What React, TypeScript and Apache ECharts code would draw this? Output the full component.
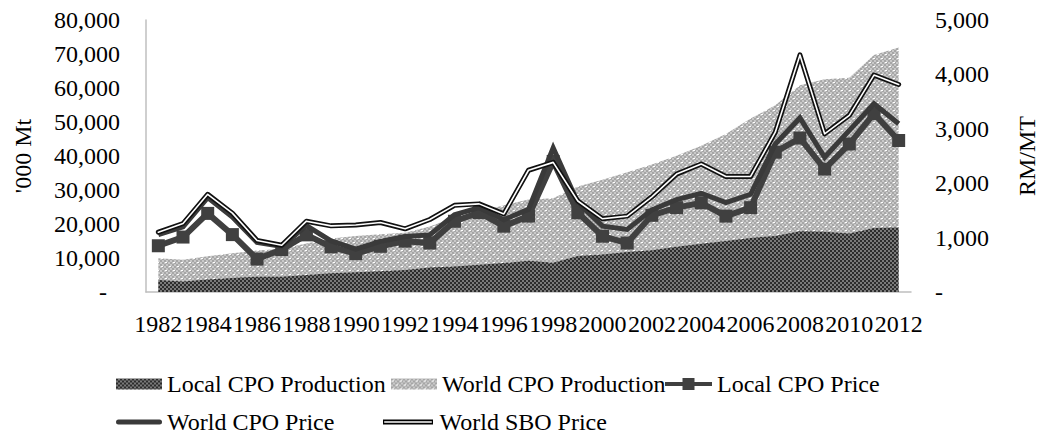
import React, { useEffect, useRef } from "react";
import * as echarts from "echarts";

const years = [
  "1982", "1983", "1984", "1985", "1986", "1987", "1988", "1989", "1990", "1991",
  "1992", "1993", "1994", "1995", "1996", "1997", "1998", "1999", "2000", "2001",
  "2002", "2003", "2004", "2005", "2006", "2007", "2008", "2009", "2010", "2011", "2012",
];

const localProduction = [
  3500, 3100, 3700, 4100, 4500, 4500, 5000, 5500, 5800, 6100,
  6500, 7200, 7500, 8000, 8500, 9200, 8600, 10600, 11000, 11800,
  12300, 13300, 14200, 15000, 15900, 16500, 17900, 17700, 17200, 18800, 19000,
];

const worldProduction = [
  9900, 9500, 10500, 11400, 12200, 12700, 14300, 15700, 16500, 17000,
  17400, 19300, 22000, 23500, 25500, 27200, 27600, 31000, 33000, 35200,
  37500, 40100, 43000, 46500, 51000, 54900, 60800, 62600, 63000, 69700, 71900,
];

const localCpoPrice = [
  850, 1010, 1445, 1055, 605, 780, 1050, 830, 705, 840,
  935, 900, 1300, 1460, 1210, 1395, 2400, 1457, 1025, 900,
  1410, 1550, 1640, 1395, 1550, 2570, 2830, 2260, 2720, 3280, 2785,
];

const worldCpoPrice = [
  1055, 1200, 1735, 1380, 910, 840, 1220, 940, 790, 930,
  1020, 1050, 1420, 1550, 1330, 1518, 2650, 1642, 1210, 1150,
  1510, 1700, 1815, 1642, 1796, 2720, 3200, 2476, 2970, 3460, 3093,
];

const worldSboPrice = [
  1100, 1259, 1796, 1450, 947, 860, 1302, 1216, 1232, 1278,
  1161, 1333, 1593, 1620, 1435, 2238, 2383, 1673, 1346, 1395,
  1750, 2167, 2352, 2124, 2124, 2938, 4358, 2907, 3247, 3988, 3815,
];

const FONT = "Liberation Serif";

function makeLocalPattern() {
  const c = document.createElement("canvas");
  c.width = 4;
  c.height = 4;
  const g = c.getContext("2d")!;
  g.fillStyle = "#7a7a7a";
  g.fillRect(0, 0, 4, 4);
  g.fillStyle = "#2c2c2c";
  g.fillRect(0, 0, 2, 2);
  g.fillRect(2, 2, 2, 2);
  return { image: c.toDataURL(), imageWidth: 4, imageHeight: 4, repeat: "repeat" };
}

function makeWorldPattern() {
  const c = document.createElement("canvas");
  c.width = 8;
  c.height = 8;
  const g = c.getContext("2d")!;
  g.fillStyle = "#c8c8c8";
  g.fillRect(0, 0, 8, 8);
  g.fillStyle = "#a6a6a6";
  for (let y = 0; y < 8; y += 2) {
    for (let x = 0; x < 8; x += 2) {
      if (((x + y) / 2) % 2 === 0) g.fillRect(x, y, 2, 2);
    }
  }
  g.fillStyle = "#ffffff";
  g.fillRect(1, 2, 2, 1);
  g.fillRect(5, 6, 2, 1);
  return { image: c.toDataURL(), imageWidth: 8, imageHeight: 8, repeat: "repeat" };
}

export default function App() {
  const ref = useRef<HTMLDivElement>(null);

  useEffect(() => {
    if (!ref.current) return;
    const chart = echarts.init(ref.current, undefined, { renderer: "svg" });
    const localPat: any = makeLocalPattern();
    const worldPat: any = makeWorldPattern();

    const text = { fontFamily: FONT, fontSize: 24, color: "#000" };
    const legendBase: any = {
      orient: "horizontal",
      itemGap: 0,
      padding: 0,
      itemWidth: 46,
      itemHeight: 11,
      selectedMode: false,
      textStyle: { ...text },
    };

    const option: any = {
      animation: false,
      textStyle: { fontFamily: FONT },
      grid: { left: 146, right: 128, top: 20, bottom: 142, outerBoundsMode: "none" },
      xAxis: {
        type: "category",
        data: years,
        boundaryGap: true,
        axisLine: { show: true, lineStyle: { color: "#bfbfbf", width: 1.5 } },
        axisTick: { show: false },
        splitLine: { show: false },
        axisLabel: { interval: 1, margin: 20, ...text },
      },
      yAxis: [
        {
          type: "value",
          position: "left",
          min: 0,
          max: 80000,
          interval: 10000,
          name: "'000 Mt",
          nameLocation: "middle",
          nameRotate: 90,
          nameGap: 111,
          nameTextStyle: { ...text },
          axisLine: { show: true, lineStyle: { color: "#bfbfbf", width: 1.5 } },
          axisTick: { show: false },
          splitLine: { show: false },
          axisLabel: {
            margin: 26,
            ...text,
            formatter: (v: number) => (v === 0 ? "{d|-}" : v.toLocaleString("en-US")),
            rich: { d: { ...text, padding: [0, 13, 0, 0] } },
          },
        },
        {
          type: "value",
          position: "right",
          min: 0,
          max: 5000,
          interval: 1000,
          name: "RM/MT",
          nameLocation: "middle",
          nameRotate: 90,
          nameGap: 104,
          nameTextStyle: { ...text },
          axisLine: { show: false },
          axisTick: { show: false },
          splitLine: { show: false },
          axisLabel: {
            margin: 24,
            ...text,
            formatter: (v: number) => (v === 0 ? "-" : v.toLocaleString("en-US")),
          },
        },
      ],
      legend: [
        {
          ...legendBase,
          left: 116,
          top: 372,
          data: [{ name: "Local CPO Production", icon: "rect", itemStyle: { color: localPat } }],
        },
        {
          ...legendBase,
          left: 391,
          top: 372,
          data: [{ name: "World CPO Production", icon: "rect", itemStyle: { color: worldPat } }],
        },
        {
          ...legendBase,
          left: 665,
          top: 372,
          itemWidth: 47,
          itemHeight: 12,
          data: [
            {
              name: "Local CPO Price",
              icon: "path://M0,4H47V8H0Z M17.5,0H29.5V12H17.5Z",
              itemStyle: { color: "#404040" },
            },
          ],
        },
        {
          ...legendBase,
          left: 116,
          top: 410,
          itemWidth: 46,
          itemHeight: 5,
          data: [
            {
              name: "World CPO Price",
              icon: "path://M2.5,0H43.5A2.5,2.5,0,0,1,43.5,5H2.5A2.5,2.5,0,0,1,2.5,0Z",
              itemStyle: { color: "#3a3a3a" },
            },
          ],
        },
        {
          ...legendBase,
          left: 383,
          top: 410,
          itemWidth: 53,
          itemHeight: 5,
          data: [
            {
              name: "World SBO Price",
              icon: "path://M0,0H50V5H0Z M1.2,1.7V3.3H48.8V1.7Z",
              itemStyle: { color: "#000" },
            },
          ],
        },
      ],
      series: [
        {
          name: "World CPO Production",
          type: "line",
          yAxisIndex: 0,
          data: worldProduction,
          symbol: "none",
          lineStyle: { width: 0 },
          itemStyle: { color: worldPat },
          areaStyle: { color: worldPat, opacity: 1 },
          z: 1,
        },
        {
          name: "Local CPO Production",
          type: "line",
          yAxisIndex: 0,
          data: localProduction,
          symbol: "none",
          lineStyle: { width: 0 },
          itemStyle: { color: localPat },
          areaStyle: { color: localPat, opacity: 1 },
          z: 2,
        },
        {
          name: "Local CPO Price",
          type: "line",
          yAxisIndex: 1,
          data: localCpoPrice,
          symbol: "rect",
          symbolSize: 13,
          showAllSymbol: true,
          itemStyle: { color: "#404040" },
          lineStyle: { color: "#404040", width: 6, join: "miter" },
          z: 3,
        },
        {
          name: "World CPO Price",
          type: "line",
          yAxisIndex: 1,
          data: worldCpoPrice,
          symbol: "none",
          itemStyle: { color: "#3a3a3a" },
          lineStyle: { color: "#3a3a3a", width: 5, join: "miter" },
          z: 4,
        },
        {
          name: "World SBO Price",
          type: "line",
          yAxisIndex: 1,
          data: worldSboPrice,
          symbol: "none",
          itemStyle: { color: "#000" },
          lineStyle: { color: "#111", width: 5, cap: "round", join: "round" },
          z: 5,
        },
        {
          name: "SBO inner",
          type: "line",
          yAxisIndex: 1,
          data: worldSboPrice,
          symbol: "none",
          itemStyle: { color: "#fff" },
          lineStyle: { color: "#ffffff", width: 1.6, cap: "round", join: "round" },
          z: 6,
        },
      ],
    };

    chart.setOption(option);
    return () => chart.dispose();
  }, []);

  return <div ref={ref} style={{ width: 1039, height: 434, position: "absolute", left: 0, top: 0 }} />;
}
